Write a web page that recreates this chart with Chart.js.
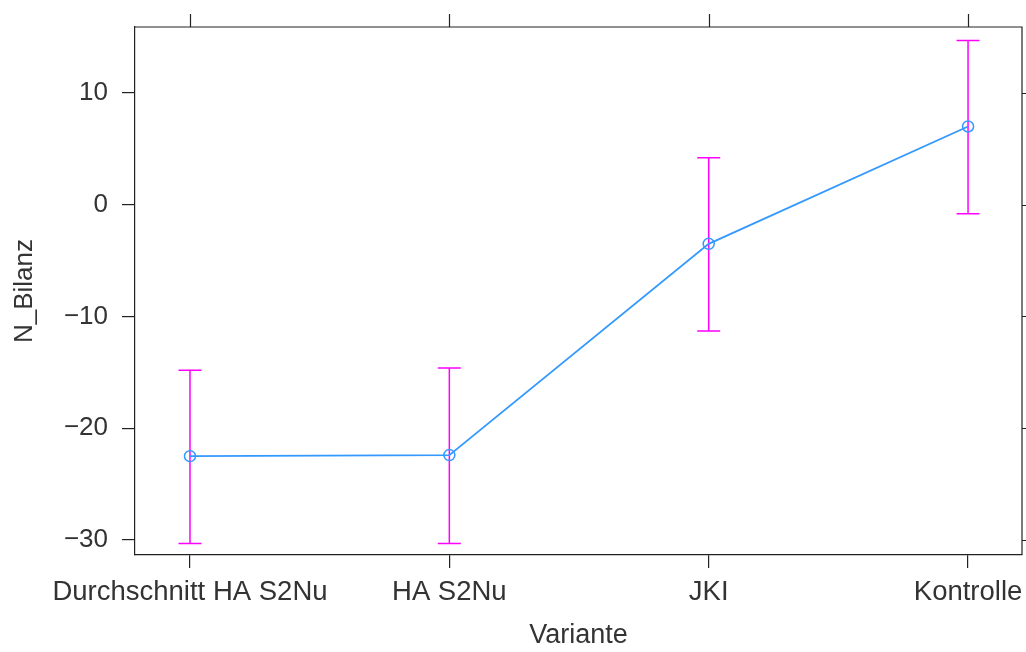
<!DOCTYPE html>
<html>
<head>
<meta charset="utf-8">
<script src="https://cdn.jsdelivr.net/npm/chart.js@4"></script>
<style>
    html, body { margin: 0; padding: 0; background: #fff; }
    #wrap { width: 1026px; height: 652px; }
</style>
</head>
<body>
<div id="wrap"><canvas id="chart" width="1026" height="652"></canvas></div>
<script>
// Mittelwerte mit Fehlerbalken je Variante (lattice-Stil)
const categories = ["Durchschnitt HA S2Nu", "HA S2Nu", "JKI", "Kontrolle"];
const means = [-22.5, -22.4, -3.5, 7.0];
const lower = [-30.3, -30.3, -11.3, -0.8];
const upper = [-14.8, -14.6, 4.2, 14.7];
const yTicks = [-30, -20, -10, 0, 10];

const FONT = "'Liberation Sans', Arial, sans-serif";
const TICK_LEN = 13;

// Fehlerbalken hinter der Linie zeichnen
const errorBars = {
    id: "errorBars",
    beforeDatasetsDraw(chart) {
        const { ctx, scales } = chart;
        ctx.save();
        ctx.strokeStyle = "#ff00ff";
        ctx.lineWidth = 1.5;
        categories.forEach((_, i) => {
            const x = scales.x.getPixelForValue(i);
            const y1 = scales.y.getPixelForValue(lower[i]);
            const y2 = scales.y.getPixelForValue(upper[i]);
            ctx.beginPath();
            ctx.moveTo(x, y1);
            ctx.lineTo(x, y2);
            ctx.moveTo(x - 11.5, y1);
            ctx.lineTo(x + 11.5, y1);
            ctx.moveTo(x - 11.5, y2);
            ctx.lineTo(x + 11.5, y2);
            ctx.stroke();
        });
        ctx.restore();
    },
};

// Rahmen oben/rechts mit Ticks wie bei lattice
const frame = {
    id: "frame",
    afterDraw(chart) {
        const { ctx, chartArea: a, scales } = chart;
        ctx.save();
        ctx.strokeStyle = "#222";
        ctx.lineWidth = 1.2;
        ctx.beginPath();
        ctx.moveTo(a.left, a.top);
        ctx.lineTo(a.right, a.top);
        ctx.lineTo(a.right, a.bottom);
        categories.forEach((_, i) => {
            const x = Math.round(scales.x.getPixelForValue(i)) + 0.5;
            ctx.moveTo(x, a.top);
            ctx.lineTo(x, a.top - TICK_LEN);
        });
        yTicks.forEach((v) => {
            const y = Math.round(scales.y.getPixelForValue(v)) + 0.5;
            ctx.moveTo(a.right, y);
            ctx.lineTo(a.right + TICK_LEN, y);
        });
        ctx.stroke();
        ctx.restore();
    },
};

new Chart(document.getElementById("chart"), {
    type: "line",
    data: {
        datasets: [
            {
                data: means.map((m, i) => ({ x: i, y: m })),
                borderColor: "#3399ff",
                borderWidth: 1.8,
                pointRadius: 5.5,
                pointBorderWidth: 1.5,
                pointBorderColor: "#3399ff",
                pointBackgroundColor: "rgba(0,0,0,0)",
                tension: 0,
                fill: false,
            },
        ],
    },
    options: {
        responsive: false,
        animation: false,
        layout: {
            autoPadding: false,
            padding: { top: 27, right: 4, left: 0, bottom: 0 },
        },
        plugins: {
            legend: { display: false },
            tooltip: { enabled: false },
        },
        scales: {
            x: {
                type: "linear",
                min: -0.212,
                max: 3.208,
                afterBuildTicks(scale) {
                    scale.ticks = categories.map((_, i) => ({ value: i }));
                },
                afterFit(scale) {
                    scale.height = 97;
                    scale.paddingLeft = 0;
                    scale.paddingRight = 0;
                },
                grid: {
                    drawOnChartArea: false,
                    drawTicks: true,
                    tickLength: TICK_LEN,
                    color: "#222",
                    lineWidth: 1.2,
                },
                border: { display: true, color: "#222", width: 1.2 },
                ticks: {
                    autoSkip: false,
                    maxRotation: 0,
                    padding: 8,
                    color: "#333",
                    font: { family: FONT, size: 27.5 },
                    callback: (v) => categories[v] ?? "",
                },
                title: {
                    display: true,
                    text: "Variante",
                    color: "#333",
                    font: { family: FONT, size: 27 },
                    padding: { top: 0, bottom: 0 },
                },
            },
            y: {
                min: -31.34,
                max: 15.9,
                afterBuildTicks(scale) {
                    scale.ticks = yTicks.map((v) => ({ value: v }));
                },
                afterFit(scale) {
                    scale.width = 135;
                    scale.paddingTop = 0;
                    scale.paddingBottom = 0;
                },
                grid: {
                    drawOnChartArea: false,
                    drawTicks: true,
                    tickLength: TICK_LEN,
                    color: "#222",
                    lineWidth: 1.2,
                },
                border: { display: true, color: "#222", width: 1.2 },
                ticks: {
                    padding: 14,
                    color: "#333",
                    font: { family: FONT, size: 26 },
                    callback: (v) => String(v).replace("-", "\u2212"),
                },
                title: {
                    display: true,
                    text: "N_Bilanz",
                    color: "#333",
                    font: { family: FONT, size: 26 },
                    padding: { top: 9, bottom: 0 },
                },
            },
        },
    },
    plugins: [errorBars, frame],
});
</script>
</body>
</html>
